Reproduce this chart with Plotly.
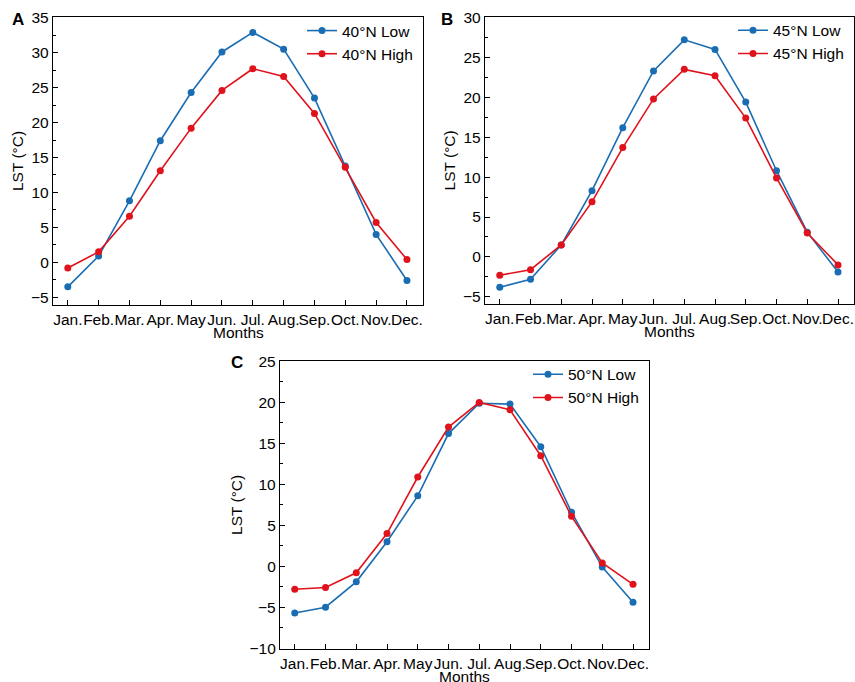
import plotly.graph_objects as go

months = ["Jan.", "Feb.", "Mar.", "Apr.", "May", "Jun.", "Jul.", "Aug.", "Sep.", "Oct.", "Nov.", "Dec."]
month_idx = list(range(1, 13))

lat40_low = [-3.5, 0.9, 8.8, 17.4, 24.3, 30.1, 32.9, 30.5, 23.5, 13.8, 4.0, -2.6]
lat40_high = [-0.8, 1.5, 6.6, 13.1, 19.2, 24.6, 27.7, 26.6, 21.3, 13.6, 5.7, 0.4]
lat45_low = [-3.8, -2.8, 1.5, 8.3, 16.2, 23.3, 27.2, 26.0, 19.4, 10.8, 3.1, -1.9]
lat45_high = [-2.3, -1.6, 1.5, 6.9, 13.7, 19.8, 23.5, 22.7, 17.4, 9.9, 3.0, -1.0]
lat50_low = [-5.7, -5.0, -1.9, 3.0, 8.6, 16.2, 19.9, 19.8, 14.6, 6.6, -0.1, -4.4]
lat50_high = [-2.8, -2.6, -0.8, 4.0, 10.9, 17.0, 20.0, 19.1, 13.5, 6.1, 0.4, -2.2]

BLUE = "#1a6db3"
RED = "#e0121c"
FONT = "Liberation Sans, Arial, sans-serif"
FS = 15.5
W, H = 855, 682

panels = [
    ("A", lat40_low, lat40_high, "40°N Low", "40°N High", (53, 423), (17, 305), (-6.1, 35.1), "1"),
    ("B", lat45_low, lat45_high, "45°N Low", "45°N High", (485, 854), (16.7, 304), (-5.9, 30.1), "2"),
    ("C", lat50_low, lat50_high, "50°N Low", "50°N High", (280, 649), (360.7, 649), (-10.1, 25.1), "3"),
]

fig = go.Figure()
layout = dict(
    width=W, height=H,
    margin=dict(l=0, r=0, t=0, b=0),
    paper_bgcolor="white", plot_bgcolor="white",
    font=dict(family=FONT, size=FS, color="black"),
    showlegend=True,
    annotations=[],
)

for i, (lab, low, high, nlow, nhigh, (x0, x1), (ytop, ybot), yr, n) in enumerate(panels):
    xa = "x" if n == "1" else "x" + n
    ya = "y" if n == "1" else "y" + n
    lg = "legend" if n == "1" else "legend" + n
    fig.add_trace(go.Scatter(x=month_idx, y=low, name=nlow, mode="lines+markers",
                             line=dict(color=BLUE, width=1.6), marker=dict(size=7, color=BLUE),
                             xaxis=xa, yaxis=ya, legend=lg))
    fig.add_trace(go.Scatter(x=month_idx, y=high, name=nhigh, mode="lines+markers",
                             line=dict(color=RED, width=1.6), marker=dict(size=7, color=RED),
                             xaxis=xa, yaxis=ya, legend=lg))
    xkey = "xaxis" if n == "1" else "xaxis" + n
    ykey = "yaxis" if n == "1" else "yaxis" + n
    layout[xkey] = dict(
        domain=[x0 / W, x1 / W], anchor=ya, range=[0.52, 12.52],
        tickmode="array", tickvals=month_idx, ticktext=months, tickangle=0,
        ticks="inside", ticklen=5, tickwidth=1.2, tickcolor="black",
        showline=True, linecolor="black", linewidth=1.3, mirror=True,
        showgrid=False, zeroline=False, automargin=False,
        tickfont=dict(size=FS),
    )
    layout[ykey] = dict(
        domain=[1 - ybot / H, 1 - ytop / H], anchor=xa, range=list(yr),
        dtick=5, ticks="inside", ticklen=5, tickwidth=1.2, tickcolor="black",
        minor=dict(dtick=2.5, ticks="inside", ticklen=3, tickwidth=1.2, tickcolor="black"),
        showline=True, linecolor="black", linewidth=1.3, mirror=True,
        showgrid=False, zeroline=False, automargin=False,
        tickfont=dict(size=FS), title=dict(text="LST (°C)", font=dict(size=FS), standoff=3),
    )
    layout[lg] = dict(
        x=(x1 - 121) / W, y=1 - (ytop - 3) / H, xanchor="left", yanchor="top",
        bgcolor="rgba(0,0,0,0)", borderwidth=0, font=dict(size=FS),
        tracegroupgap=0, itemwidth=30,
    )
    # x-axis title "Months", centred under the plot
    layout["annotations"].append(dict(
        text="Months", x=(x0 + x1) / 2 / W, y=1 - (ybot + 27) / H, xref="paper", yref="paper",
        showarrow=False, font=dict(size=FS, family=FONT), xanchor="center", yanchor="middle"))
    lab_x = {"A": 18, "B": 447, "C": 237}[lab]
    lab_y = {"A": 20, "B": 20, "C": 362}[lab]
    layout["annotations"].append(dict(
        text="<b>%s</b>" % lab, x=lab_x / W, y=1 - lab_y / H, xref="paper", yref="paper",
        showarrow=False, font=dict(size=17, family=FONT), xanchor="center", yanchor="middle"))

fig.update_layout(**layout)
fig.write_html("out.html", config={"displayModeBar": False},
               post_script="document.body.style.margin='0';document.body.style.overflow='hidden';")
